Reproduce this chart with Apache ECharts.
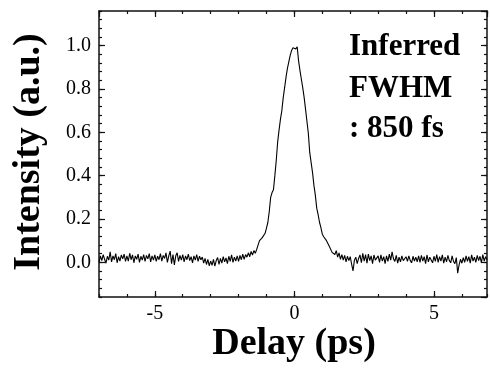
<!DOCTYPE html>
<html>
<head>
<meta charset="utf-8">
<script src="https://cdn.jsdelivr.net/npm/echarts@6/dist/echarts.min.js"></script>
<style>
html,body{margin:0;padding:0;background:#fff;}
#chart{width:490px;height:373px;}
</style>
</head>
<body>
<div id="chart"></div>
<script>
// Sampling grid of the delay axis (ps)
const delayStart = -7.0;
const delayStep = 0.05;
// Measured autocorrelation intensity (a.u.), one value per delay sample
const intensity = [
  // -7.00 .. -6.05
  0.000, 0.030, 0.008, 0.036, 0.014, -0.004, 0.028, 0.010, 0.048, 0.002, 0.030, 0.012, 0.040, -0.002, 0.026, 0.006, 0.034, 0.016, 0.038, 0.004,
  // -6.00 .. -5.05
  0.030, 0.006, 0.042, 0.012, 0.034, -0.002, 0.030, 0.014, 0.038, 0.000, 0.028, 0.010, 0.036, 0.004, 0.032, 0.016, 0.040, 0.002, 0.030, 0.010,
  // -5.00 .. -4.05
  0.034, 0.004, 0.028, 0.012, 0.040, 0.006, 0.032, 0.018, 0.044, 0.000, 0.030, 0.052, -0.006, 0.036, -0.012, 0.030, 0.044, 0.004, 0.032, 0.010,
  // -4.00 .. -3.05
  0.036, 0.002, 0.030, 0.012, 0.038, 0.008, 0.026, -0.002, 0.030, 0.010, 0.036, 0.004, 0.028, 0.012, 0.024, -0.004, 0.018, -0.010, 0.014, -0.016,
  // -3.00 .. -2.05
  0.006, -0.014, 0.014, -0.018, 0.008, 0.022, -0.010, 0.018, -0.004, 0.026, 0.002, 0.020, -0.006, 0.028, 0.004, 0.034, 0.000, 0.024, 0.006, 0.030,
  // -2.00 .. -1.05
  0.004, 0.032, 0.012, 0.038, 0.014, 0.036, 0.024, 0.044, 0.026, 0.050, 0.034, 0.054, 0.042, 0.060, 0.056, 0.100, 0.094, 0.114, 0.110, 0.134,
  // -1.00 .. -0.05
  0.158, 0.185, 0.235, 0.300, 0.322, 0.335, 0.400, 0.470, 0.555, 0.610, 0.660, 0.700, 0.760, 0.806, 0.855, 0.895, 0.925, 0.955, 0.978, 0.990,
  // 0.00 .. 0.95
  0.998, 0.985, 0.995, 0.930, 0.885, 0.845, 0.805, 0.760, 0.706, 0.650, 0.595, 0.506, 0.460, 0.414, 0.355, 0.310, 0.250, 0.220, 0.185, 0.160,
  // 1.00 .. 1.95
  0.130, 0.118, 0.114, 0.100, 0.092, 0.074, 0.070, 0.046, 0.050, 0.036, 0.054, 0.024, 0.044, 0.014, 0.036, 0.010, 0.032, 0.002, 0.028, 0.008,
  // 2.00 .. 2.95
  0.026, -0.008, -0.040, 0.010, 0.024, -0.006, 0.018, 0.034, -0.002, 0.042, 0.006, 0.036, -0.004, 0.038, 0.008, 0.030, -0.006, 0.034, 0.010, 0.002,
  // 3.00 .. 3.95
  0.030, 0.000, 0.034, 0.006, 0.026, -0.006, 0.030, 0.004, 0.038, 0.010, 0.048, 0.016, 0.004, 0.032, -0.004, 0.024, 0.002, 0.030, 0.008, 0.000,
  // 4.00 .. 4.95
  0.026, 0.004, 0.030, 0.008, -0.002, 0.028, 0.006, 0.024, 0.002, 0.030, 0.000, 0.032, 0.006, 0.026, -0.006, 0.034, 0.002, 0.024, 0.030, -0.002,
  // 5.00 .. 5.95
  0.028, 0.004, 0.036, 0.000, 0.026, 0.006, 0.034, -0.004, 0.024, 0.002, 0.032, 0.008, -0.002, 0.030, 0.004, -0.006, 0.022, -0.050, -0.012, 0.014,
  // 6.00 .. 6.90
  -0.004, 0.022, 0.000, 0.030, 0.004, 0.026, -0.004, 0.034, 0.006, 0.024, 0.000, 0.032, 0.008, 0.028, -0.002, 0.036, 0.006, 0.026, 0.012
];
const xRange = [-7, 6.9];
const yRange = [-0.16, 1.16];
const xTitle = 'Delay (ps)';
const yTitle = 'Intensity (a.u.)';
const noteLines = ['Inferred', 'FWHM', ': 850 fs'];

const points = intensity.map((v, i) => [+(delayStart + i * delayStep).toFixed(2), v]);

const serif = '"Liberation Serif", "Times New Roman", Times, serif';
const axisColor = '#111';
const lineStyle = { color: axisColor, width: 1.5 };
const labelStyle = { color: '#000', fontFamily: serif, fontSize: 20 };

function minorX(pos) {
  return {
    type: 'value', position: pos, min: xRange[0], max: xRange[1], interval: 1,
    axisLine: { show: true, onZero: false, lineStyle: lineStyle },
    axisTick: { show: true, inside: true, length: 3, lineStyle: { color: axisColor, width: 1.2 } },
    axisLabel: { show: false }, splitLine: { show: false }
  };
}
function majorX(pos, labels) {
  return {
    type: 'value', position: pos, min: xRange[0], max: xRange[1], splitNumber: 3,
    axisLine: { show: false, onZero: false },
    axisTick: { show: true, inside: true, length: 6, lineStyle: { color: axisColor, width: 1.2 } },
    axisLabel: Object.assign({ show: labels, margin: 7, showMinLabel: false, showMaxLabel: false,
      formatter: v => String(Math.round(v)) }, labelStyle),
    splitLine: { show: false }
  };
}
function minorY(pos) {
  return {
    type: 'value', position: pos, min: yRange[0], max: yRange[1], interval: 0.04,
    axisLine: { show: true, onZero: false, lineStyle: lineStyle },
    axisTick: { show: true, inside: true, length: 3, lineStyle: { color: axisColor, width: 1.2 } },
    axisLabel: { show: false }, splitLine: { show: false }
  };
}
function majorY(pos, labels) {
  return {
    type: 'value', position: pos, min: yRange[0], max: yRange[1], splitNumber: 6,
    axisLine: { show: false, onZero: false },
    axisTick: { show: true, inside: true, length: 6, lineStyle: { color: axisColor, width: 1.2 } },
    axisLabel: Object.assign({ show: labels, margin: 8, showMinLabel: false, showMaxLabel: false,
      formatter: v => (Math.abs(v) < 1e-9 ? 0 : v).toFixed(1) }, labelStyle),
    splitLine: { show: false }
  };
}

const chart = echarts.init(document.getElementById('chart'), null, { renderer: 'canvas' });
chart.setOption({
  animation: false,
  backgroundColor: '#fff',
  grid: { left: 99, right: 3, top: 11, bottom: 76, containLabel: false },
  xAxis: [minorX('bottom'), majorX('bottom', true), minorX('top'), majorX('top', false)],
  yAxis: [minorY('left'), majorY('left', true), minorY('right'), majorY('right', false)],
  series: [{
    type: 'line', xAxisIndex: 0, yAxisIndex: 0, data: points,
    showSymbol: false, symbol: 'none', smooth: false,
    lineStyle: { color: '#000', width: 1.1 }, silent: true
  }],
  graphic: [
    { type: 'text', x: 29, y: 152, rotation: Math.PI / 2,
      style: { text: yTitle, font: 'bold 38px ' + serif, fill: '#000', align: 'center', verticalAlign: 'middle' } },
    { type: 'text', x: 294, y: 344,
      style: { text: xTitle, font: 'bold 38px ' + serif, fill: '#000', align: 'center', verticalAlign: 'middle' } },
    { type: 'text', x: 349, y: 46.5,
      style: { text: noteLines[0], font: 'bold 31px ' + serif, fill: '#000', align: 'left', verticalAlign: 'middle' } },
    { type: 'text', x: 349, y: 88.5,
      style: { text: noteLines[1], font: 'bold 31px ' + serif, fill: '#000', align: 'left', verticalAlign: 'middle' } },
    { type: 'text', x: 349, y: 128.5,
      style: { text: noteLines[2], font: 'bold 31px ' + serif, fill: '#000', align: 'left', verticalAlign: 'middle' } }
  ]
});
</script>
</body>
</html>
